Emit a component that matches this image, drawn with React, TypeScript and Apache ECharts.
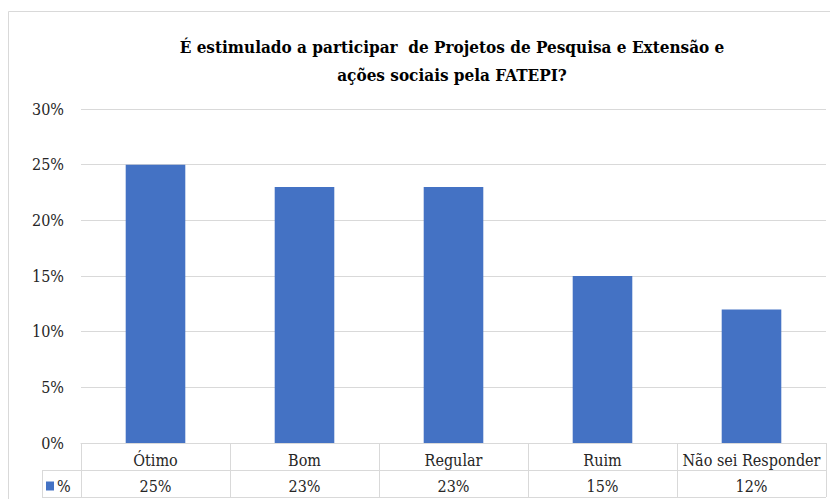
import React, { useEffect, useRef } from 'react';
import * as echarts from 'echarts';

const titleText = 'É estimulado a participar  de Projetos de Pesquisa e Extensão e\nações sociais pela FATEPI?';
const seriesName = '%';
const categories = ['Ótimo', 'Bom', 'Regular', 'Ruim', 'Não sei Responder'];
const values = [25, 23, 23, 15, 12];
const valueLabels = ['25%', '23%', '23%', '15%', '12%'];
const yMin = 0;
const yMax = 30;
const yInterval = 5;

export default function App() {
  const ref = useRef<HTMLDivElement>(null);
  useEffect(() => {
    const chart = echarts.init(ref.current!, null, { renderer: 'svg' });
    const W = 830;
    const H = 499;
    const gridLeft = 81;
    const gridRight = 4;
    const gridTop = 109;
    const gridBottom = 56;
    const rowH = 27;
    const legendLeft = 42;
    const axisY = H - gridBottom;
    const lineColor = '#d9d9d9';
    const font = 'DejaVu Serif Condensed, DejaVu Serif';
    const titleFont = 'DejaVu Serif Condensed, DejaVu Serif';
    const textColor = '#262626';

    chart.setOption({
      animation: false,
      textStyle: { fontFamily: font },
      title: {
        text: titleText,
        left: 452,
        top: 33,
        padding: 0,
        textAlign: 'center',
        textStyle: {
          fontFamily: titleFont,
          fontWeight: 'bold',
          fontSize: 17,
          lineHeight: 28,
          color: '#000',
        },
      },
      legend: {
        data: [seriesName],
        left: 46,
        top: axisY + rowH + 8,
        icon: 'rect',
        itemWidth: 8,
        itemHeight: 9,
        itemGap: 4,
        textStyle: { fontFamily: font, fontSize: 16, color: textColor, padding: [0, 0, 0, -2] },
        padding: 0,
      },
      grid: {
        left: gridLeft,
        right: gridRight,
        top: gridTop,
        bottom: gridBottom,
        containLabel: false,
      },
      xAxis: [
        {
          type: 'category',
          data: categories,
          position: 'bottom',
          axisLine: { show: true, lineStyle: { color: lineColor, width: 1 } },
          axisTick: { show: true, length: rowH * 2, interval: 0, lineStyle: { color: lineColor } },
          axisLabel: { interval: 0, margin: 9, fontFamily: font, fontSize: 16, color: textColor },
        },
        {
          type: 'category',
          data: valueLabels,
          position: 'bottom',
          offset: rowH,
          axisLine: { show: false },
          axisTick: { show: false },
          axisLabel: { interval: 0, margin: 8, fontFamily: font, fontSize: 16, color: textColor },
        },
      ],
      yAxis: {
        type: 'value',
        min: yMin,
        max: yMax,
        interval: yInterval,
        axisLine: { show: false },
        axisTick: { show: false },
        splitLine: { lineStyle: { color: lineColor, width: 1 } },
        axisLabel: {
          formatter: '{value}%',
          margin: 17,
          fontFamily: font,
          fontSize: 16,
          color: textColor,
        },
      },
      series: [
        {
          name: seriesName,
          type: 'bar',
          data: values,
          barWidth: '40%',
          itemStyle: { color: '#4472C4' },
        },
      ],
      graphic: [
        {
          type: 'rect',
          silent: true,
          shape: { x: 8.5, y: 11.5, width: W, height: H },
          style: { fill: 'none', stroke: lineColor, lineWidth: 1 },
        },
        {
          type: 'line',
          silent: true,
          shape: { x1: legendLeft, y1: axisY + rowH + 0.5, x2: W - gridRight, y2: axisY + rowH + 0.5 },
          style: { stroke: lineColor, lineWidth: 1 },
        },
        {
          type: 'line',
          silent: true,
          shape: { x1: legendLeft, y1: axisY + rowH * 2 + 0.5, x2: W - gridRight, y2: axisY + rowH * 2 + 0.5 },
          style: { stroke: lineColor, lineWidth: 1 },
        },
        {
          type: 'line',
          silent: true,
          shape: { x1: legendLeft + 0.5, y1: axisY + rowH, x2: legendLeft + 0.5, y2: axisY + rowH * 2 },
          style: { stroke: lineColor, lineWidth: 1 },
        },
      ],
    });
    return () => chart.dispose();
  }, []);
  return (
    <div
      ref={ref}
      style={{ position: 'fixed', left: 0, top: 0, width: 830, height: 499, background: '#fff' }}
    />
  );
}
